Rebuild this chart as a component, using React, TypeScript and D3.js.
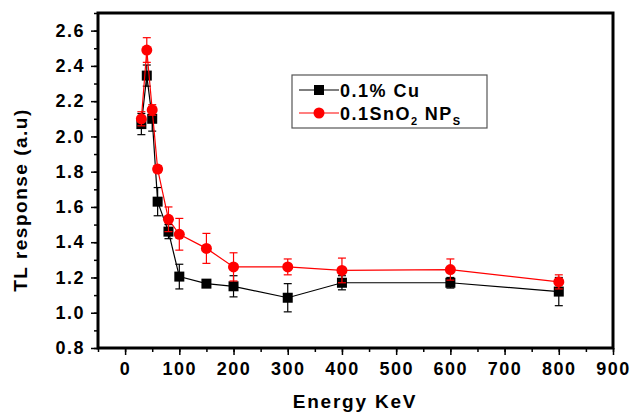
import React, { useRef, useEffect } from "react";
import * as d3 from "d3";

// Energy (keV) for both series
const energies = [30, 40, 50, 60, 80, 100, 150, 200, 300, 400, 600, 800];

// 0.1% Cu
const cuValues = [2.07, 2.345, 2.1, 1.63, 1.46, 1.205, 1.165, 1.15, 1.085, 1.17, 1.17, 1.12];
const cuErrors = [0.06, 0.06, 0.07, 0.08, 0.04, 0.07, 0.02, 0.06, 0.08, 0.04, 0.03, 0.08];

// 0.1 SnO2 NPs
const snValues = [2.1, 2.49, 2.15, 1.815, 1.53, 1.445, 1.365, 1.26, 1.26, 1.24, 1.245, 1.175];
const snErrors = [0.04, 0.07, 0.03, 0.02, 0.07, 0.09, 0.085, 0.08, 0.045, 0.07, 0.06, 0.04];

const xTicks = [0, 100, 200, 300, 400, 500, 600, 700, 800, 900];
const yTicks = [0.8, 1.0, 1.2, 1.4, 1.6, 1.8, 2.0, 2.2, 2.4, 2.6];

const FONT = "'Liberation Sans', Arial, sans-serif";

export default function App() {
  const ref = useRef<SVGSVGElement | null>(null);

  useEffect(() => {
    const svg = d3.select(ref.current);
    svg.selectAll("*").remove();

    const left = 98, top = 13, right = 613, bottom = 348;
    const x = d3.scaleLinear().domain([-50, 900]).range([left, right]);
    const y = d3.scaleLinear().domain([0.8, 2.7]).range([bottom, top]);

    const styleTicks = (g: any) => {
      g.selectAll(".domain").remove();
      g.selectAll("line").attr("stroke", "#000").attr("stroke-width", 1.5);
      g.selectAll("text")
        .attr("font-family", FONT)
        .attr("font-size", 18)
        .attr("font-weight", "bold")
        .attr("letter-spacing", 1.5)
        .attr("fill", "#000");
    };

    // X axis with minor ticks
    const minorX = d3.range(-50, 901, 50);
    const gx = svg.append("g").attr("transform", `translate(0,${bottom})`);
    gx.call(d3.axisBottom(x).tickValues(minorX).tickSize(4).tickFormat(() => ""));
    gx.append("g").call(d3.axisBottom(x).tickValues(xTicks).tickSize(7).tickPadding(7).tickFormat(d3.format("d")));
    styleTicks(gx);

    // Y axis with minor ticks
    const minorY = d3.range(8, 28).map((v) => v / 10);
    const gy = svg.append("g").attr("transform", `translate(${left},0)`);
    gy.call(d3.axisLeft(y).tickValues(minorY).tickSize(4).tickFormat(() => ""));
    gy.append("g").call(d3.axisLeft(y).tickValues(yTicks).tickSize(7).tickPadding(6).tickFormat(d3.format(".1f")));
    styleTicks(gy);

    // Frame
    svg.append("rect")
      .attr("x", left).attr("y", top)
      .attr("width", right - left).attr("height", bottom - top)
      .attr("fill", "none").attr("stroke", "#000").attr("stroke-width", 3);

    const series = [
      { values: cuValues, errors: cuErrors, color: "#000", shape: "square" },
      { values: snValues, errors: snErrors, color: "#ff0000", shape: "circle" },
    ];

    const line = d3.line<number>().x((_d, i) => x(energies[i])).y((d) => y(d));

    series.forEach((s) => {
      const g = svg.append("g");
      g.append("path").datum(s.values).attr("d", line)
        .attr("fill", "none").attr("stroke", s.color).attr("stroke-width", 1.2);

      // error bars
      s.values.forEach((v, i) => {
        const cx = x(energies[i]);
        const y1 = y(v + s.errors[i]);
        const y2 = y(v - s.errors[i]);
        g.append("line").attr("x1", cx).attr("x2", cx).attr("y1", y1).attr("y2", y2)
          .attr("stroke", s.color).attr("stroke-width", 1.2);
        [y1, y2].forEach((yy) => {
          g.append("line").attr("x1", cx - 4).attr("x2", cx + 4).attr("y1", yy).attr("y2", yy)
            .attr("stroke", s.color).attr("stroke-width", 1.2);
        });
      });

      // markers
      s.values.forEach((v, i) => {
        const cx = x(energies[i]);
        const cy = y(v);
        if (s.shape === "square") {
          g.append("rect").attr("x", cx - 5).attr("y", cy - 5).attr("width", 10).attr("height", 10)
            .attr("fill", s.color);
        } else {
          g.append("circle").attr("cx", cx).attr("cy", cy).attr("r", 5.5).attr("fill", s.color);
        }
      });
    });

    // Legend
    const lg = svg.append("g");
    lg.append("rect").attr("x", 292).attr("y", 75).attr("width", 195).attr("height", 53)
      .attr("fill", "#fff").attr("stroke", "#555").attr("stroke-width", 1.2);
    const legendRows = [
      { label: "0.1% Cu", color: "#000", shape: "square", yy: 90 },
      { label: "0.1SnO", color: "#ff0000", shape: "circle", yy: 113 },
    ];
    legendRows.forEach((r) => {
      lg.append("line").attr("x1", 299).attr("x2", 339).attr("y1", r.yy).attr("y2", r.yy)
        .attr("stroke", r.color).attr("stroke-width", 1.2);
      if (r.shape === "square") {
        lg.append("rect").attr("x", 314).attr("y", r.yy - 5).attr("width", 10).attr("height", 10).attr("fill", r.color);
      } else {
        lg.append("circle").attr("cx", 319).attr("cy", r.yy).attr("r", 5.5).attr("fill", r.color);
      }
      const t = lg.append("text").attr("x", 340).attr("y", r.yy + 6.5)
        .attr("font-family", FONT).attr("font-size", 18).attr("font-weight", "bold")
        .attr("letter-spacing", 1.5).attr("fill", "#000");
      if (r.shape === "square") {
        t.text(r.label);
      } else {
        t.append("tspan").text("0.1SnO");
        t.append("tspan").attr("font-size", 11).attr("dy", 5).text("2");
        t.append("tspan").attr("dy", -5).attr("dx", 6).text("NP");
        t.append("tspan").attr("font-size", 11).attr("dy", 5).text("S");
      }
    });

    // Axis titles
    svg.append("text")
      .attr("x", 355).attr("y", 408)
      .attr("text-anchor", "middle")
      .attr("font-family", FONT).attr("font-size", 19).attr("font-weight", "bold")
      .attr("letter-spacing", 1.8)
      .text("Energy KeV");
    svg.append("text")
      .attr("transform", `translate(27,200) rotate(-90)`)
      .attr("text-anchor", "middle")
      .attr("font-family", FONT).attr("font-size", 19).attr("font-weight", "bold")
      .attr("letter-spacing", 1.5)
      .text("TL response (a.u)");
  }, []);

  return (
    <svg ref={ref} width={631} height={412}
      style={{ position: "absolute", left: 0, top: 0, background: "#fff" }} />
  );
}
